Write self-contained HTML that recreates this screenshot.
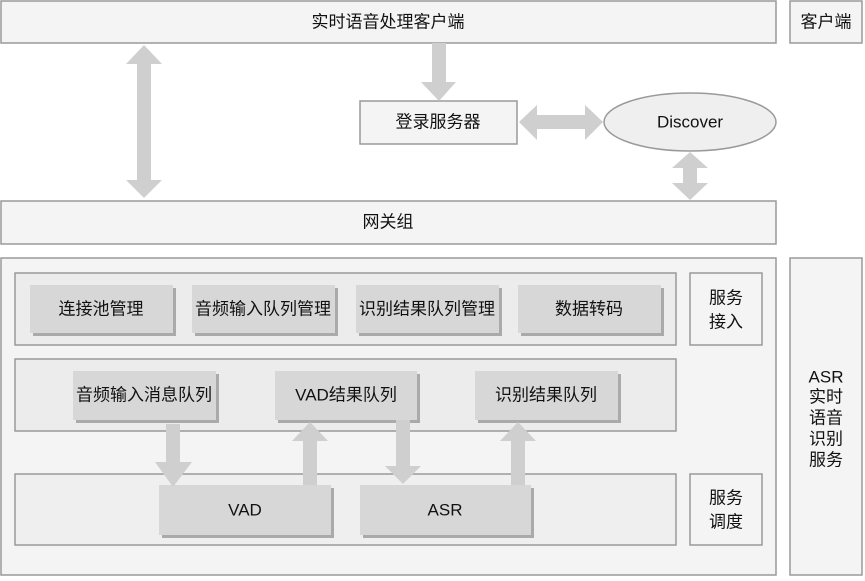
<!DOCTYPE html>
<html><head><meta charset="utf-8"><style>
body{margin:0;background:#fff}
svg text{font-family:"Liberation Sans","Noto Sans CJK SC",sans-serif;font-size:17px;fill:#111;text-anchor:middle;dominant-baseline:central}
</style></head><body>
<svg width="865" height="576" viewBox="0 0 865 576" xmlns="http://www.w3.org/2000/svg">
<g stroke="#9a9a9a" stroke-width="1.5" fill="#f4f4f4">
<rect x="1" y="1" width="775" height="42"/>
<rect x="790" y="1" width="72" height="42"/>
<rect x="360" y="101" width="157" height="43"/>
<ellipse cx="690" cy="122" rx="86" ry="29" fill="#efefef"/>
<rect x="1" y="201" width="775" height="43"/>
<rect x="1" y="258" width="775" height="317"/>
<rect x="790" y="258" width="72" height="317"/>
<rect x="15" y="273" width="661" height="72" fill="#ececec"/>
<rect x="690" y="273" width="72" height="72"/>
<rect x="15" y="359" width="661" height="72" fill="#ececec"/>
<rect x="15" y="474" width="661" height="71" fill="#efefef"/>
<rect x="690" y="474" width="72" height="71"/>
</g>
<g fill="#aaa">
<rect x="33" y="288" width="143" height="48"/>
<rect x="195" y="288" width="143" height="48"/>
<rect x="359" y="288" width="143" height="48"/>
<rect x="521" y="288" width="143" height="48"/>
<rect x="76" y="374" width="143" height="49"/>
<rect x="278" y="374" width="142" height="49"/>
<rect x="478" y="374" width="143" height="49"/>
<rect x="162" y="488" width="172" height="50"/>
<rect x="363" y="488" width="171" height="50"/>
</g>
<g fill="#d7d7d7">
<rect x="30" y="285" width="143" height="48"/>
<rect x="192" y="285" width="143" height="48"/>
<rect x="356" y="285" width="143" height="48"/>
<rect x="518" y="285" width="143" height="48"/>
<rect x="73" y="371" width="143" height="49"/>
<rect x="275" y="371" width="142" height="49"/>
<rect x="475" y="371" width="143" height="49"/>
<rect x="159" y="485" width="172" height="50"/>
<rect x="360" y="485" width="171" height="50"/>
</g>
<g fill="#cfcfcf">
<polygon points="144,45 162,64 151,64 151,180 162,180 144,198 126,180 137,180 137,64 126,64"/>
<polygon points="432,43 446,43 446,82 456,82 439,101 421,82 432,82"/>
<polygon points="519,122 537,105 537,115 585,115 585,105 603,122 585,140 585,129 537,129 537,140"/>
<polygon points="690,152 708,168 697,168 697,183 708,183 690,200 672,183 683,183 683,168 672,168"/>
<polygon points="166,424 180,424 180,462 192,462 173,487 155,462 166,462"/>
<polygon points="303,485 317,485 317,441 328,441 310,422 292,441 303,441"/>
<polygon points="396,420 410,420 410,466 421,466 403,484 385,466 396,466"/>
<polygon points="511,485 525,485 525,441 536,441 518,422 500,441 511,441"/>
</g>
<text x="388" y="22">实时语音处理客户端</text>
<text x="826" y="22">客户端</text>
<text x="438" y="122">登录服务器</text>
<text x="690" y="122">Discover</text>
<text x="388" y="222">网关组</text>
<text x="101" y="309">连接池管理</text>
<text x="263" y="309">音频输入队列管理</text>
<text x="427" y="309">识别结果队列管理</text>
<text x="589" y="309">数据转码</text>
<text x="726" y="298">服务</text>
<text x="726" y="322">接入</text>
<text x="144" y="395">音频输入消息队列</text>
<text x="346" y="395">VAD结果队列</text>
<text x="546" y="395">识别结果队列</text>
<text x="245" y="510">VAD</text>
<text x="445" y="510">ASR</text>
<text x="726" y="498">服务</text>
<text x="726" y="522">调度</text>
<text x="826" y="377">ASR</text>
<text x="826" y="397">实时</text>
<text x="826" y="418">语音</text>
<text x="826" y="439">识别</text>
<text x="826" y="460">服务</text>
</svg>
</body></html>
